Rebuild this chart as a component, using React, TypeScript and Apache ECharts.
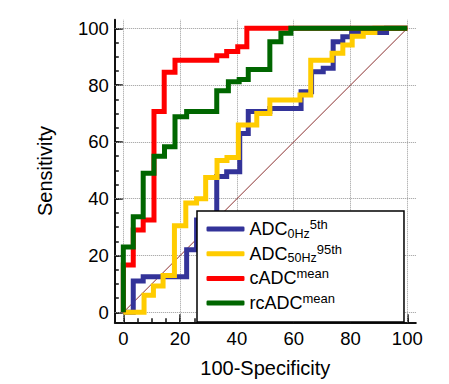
import React, { useEffect, useRef } from 'react';
import * as echarts from 'echarts';

const seriesNames = ['ADC0Hz5th', 'ADC50Hz95th', 'cADCmean', 'rcADCmean'];
const legendMain = ['ADC', 'ADC', 'cADC', 'rcADC'];
const legendSub = ['0Hz', '50Hz', '', ''];
const legendSup = ['5th', '95th', 'mean', 'mean'];
const seriesColors = ['#333399', '#ffcc00', '#ff0000', '#006600'];

const adc0Hz5th = [
  [0, 0], [3.5, 0], [3.5, 11], [7, 11], [7, 12.5], [22.3, 12.5], [22.3, 22], [25.8, 22],
  [25.8, 32.5], [32.9, 32.5], [32.9, 47.8], [36.4, 47.8], [36.4, 49.5], [41, 49.5], [41, 63],
  [44, 63], [44, 70.7], [51.6, 70.7], [51.6, 71.8], [62.6, 71.8], [62.6, 77.7], [66.3, 77.7],
  [66.3, 84.7], [70.4, 84.7], [70.4, 85.9], [73.9, 85.9], [73.9, 95.3], [77.3, 95.3], [77.3, 97],
  [80.4, 97], [80.4, 98.5], [92.7, 98.5], [92.7, 100], [100, 100],
];
const adc50Hz95th = [
  [0, 0], [7.3, 0], [7.3, 6], [10.6, 6], [10.6, 9.3], [14, 9.3], [14, 13], [18, 13], [18, 30.5],
  [22, 30.5], [22, 38.5], [25.8, 38.5], [25.8, 40], [29, 40], [29, 47.5], [33, 47.5], [33, 53.5],
  [36.5, 53.5], [36.5, 54.5], [40.5, 54.5], [40.5, 66], [47, 66], [47, 70], [51.6, 70], [51.6, 74.8],
  [62.2, 74.8], [62.2, 76.5], [66, 76.5], [66, 88.8], [73.5, 88.8], [73.5, 91.2], [77.3, 91.2],
  [77.3, 94.1], [80.6, 94.1], [80.6, 97.2], [84.5, 97.2], [84.5, 98.5], [88.6, 98.5], [88.6, 100],
  [100, 100],
];
const cadcMean = [
  [0, 0], [0, 16.7], [3.5, 16.7], [3.5, 29], [7, 29], [7, 32.5], [10.8, 32.5], [10.8, 70.7],
  [14.4, 70.7], [14.4, 84.5], [18.2, 84.5], [18.2, 88.8], [32.9, 88.8], [32.9, 90.3], [36.4, 90.3],
  [36.4, 91.8], [40.3, 91.8], [40.3, 93.5], [43.5, 93.5], [43.5, 100], [100, 100],
];
const rcadcMean = [
  [0, 0], [0, 23], [3.5, 23], [3.5, 33.7], [7, 33.7], [7, 49], [10.8, 49], [10.8, 55], [14.5, 55],
  [14.5, 58.3], [18.2, 58.3], [18.2, 68.9], [22.3, 68.9], [22.3, 70.7], [32.9, 70.7], [32.9, 78],
  [37, 78], [37, 81.2], [40.8, 81.2], [40.8, 82], [44, 82], [44, 85.5], [51.6, 85.5], [51.6, 95.3],
  [55.5, 95.3], [55.5, 98.3], [59, 98.3], [59, 100], [100, 100],
];
const diagonal = [[0, 0], [100, 100]];

const majorTicks = [0, 20, 40, 60, 80, 100];
const minorTicks = [0, 5, 10, 15, 20, 25, 30, 35, 40, 45, 50, 55, 60, 65, 70, 75, 80, 85, 90, 95, 100];
const xAxisTitle = '100-Specificity';
const yAxisTitle = 'Sensitivity';

const font = "'Liberation Sans', Arial, Helvetica, sans-serif";

export default function App() {
  const ref = useRef<HTMLDivElement>(null);

  useEffect(() => {
    if (!ref.current) return;
    const chart = echarts.init(ref.current, undefined, { renderer: 'svg' });

    const curves = [adc0Hz5th, adc50Hz95th, cadcMean, rcadcMean];

    const majorAxis = (isX: boolean, min: number, max: number) => ({
      type: 'value',
      min,
      max,
      position: isX ? 'bottom' : 'left',
      axisLine: { show: true, onZero: false, lineStyle: { color: '#111', width: 2 } },
      axisTick: {
        show: true,
        inside: true,
        length: 8,
        customValues: majorTicks,
        lineStyle: { color: '#111', width: 1.5 },
      },
      axisLabel: {
        show: true,
        customValues: majorTicks,
        margin: isX ? 7 : 6,
        fontSize: 18.5,
        color: '#000',
        fontFamily: font,
      },
      splitLine: { show: false },
      name: isX ? xAxisTitle : yAxisTitle,
      nameLocation: 'middle',
      nameGap: isX ? 36 : 60,
      nameTextStyle: { fontSize: 20, color: '#000', fontFamily: font },
    });
    const minorAxis = (isX: boolean, min: number, max: number) => ({
      type: 'value',
      min,
      max,
      position: isX ? 'bottom' : 'left',
      axisLine: { show: false, onZero: false },
      axisTick: {
        show: true,
        inside: true,
        length: 4,
        customValues: minorTicks,
        lineStyle: { color: '#111', width: 1.5 },
      },
      axisLabel: { show: false },
      splitLine: { show: false },
    });

    const option: any = {
      animation: false,
      backgroundColor: '#fff',
      grid: { left: 114.8, right: 33.2, top: 19.8, bottom: 61.7, containLabel: false },
      xAxis: [majorAxis(true, -3, 103), minorAxis(true, -3, 103)],
      yAxis: [majorAxis(false, -3.5, 103), minorAxis(false, -3.5, 103)],
      legend: {
        orient: 'vertical',
        left: 197,
        top: 211,
        data: seriesNames,
        icon: 'roundRect',
        itemWidth: 38,
        itemHeight: 5,
        itemGap: 2.7,
        itemTextGap: 11,
        padding: [7, 62, 8, 9.5],
        backgroundColor: '#fff',
        borderColor: '#000',
        borderWidth: 1.5,
        borderRadius: 0,
        selectedMode: false,
        itemStyle: { borderWidth: 0 },
        formatter: (name: string) => {
          const i = seriesNames.indexOf(name);
          return (
            `{main|${legendMain[i]}}` +
            (legendSub[i] ? `{sub|${legendSub[i]}}` : '') +
            `{sup|${legendSup[i]}}`
          );
        },
        textStyle: {
          fontSize: 18,
          lineHeight: 22,
          color: '#000',
          fontFamily: font,
          rich: {
            main: { fontSize: 18, lineHeight: 22, color: '#000', fontFamily: font },
            sub: { fontSize: 12.5, lineHeight: 11, verticalAlign: 'bottom', color: '#000', fontFamily: font },
            sup: { fontSize: 13, lineHeight: 16, verticalAlign: 'top', color: '#000', fontFamily: font },
          },
        },
      },
      series: [
        {
          type: 'line',
          name: 'diagonal',
          data: diagonal,
          symbol: 'none',
          silent: true,
          lineStyle: { color: '#8b2f2f', width: 1 },
          markLine: {
            silent: true,
            z: 1,
            symbol: ['none', 'none'],
            label: { show: false },
            lineStyle: { type: 'dotted', color: '#999', width: 1 },
            emphasis: { disabled: true },
            data: [
              ...majorTicks.map((v) => ({ xAxis: v })),
              ...majorTicks.map((v) => ({ yAxis: v })),
            ],
          },
        },
        ...curves.map((d, i) => ({
          type: 'line',
          name: seriesNames[i],
          data: d,
          symbol: 'none',
          showSymbol: false,
          silent: true,
          itemStyle: { color: seriesColors[i] },
          lineStyle: { color: seriesColors[i], width: 5, join: 'miter', cap: 'butt' },
          emphasis: { disabled: true },
        })),
      ],
    };

    chart.setOption(option);
    return () => chart.dispose();
  }, []);

  return (
    <div
      ref={ref}
      style={{ position: 'absolute', left: 0, top: 0, width: 449, height: 384 }}
    />
  );
}
